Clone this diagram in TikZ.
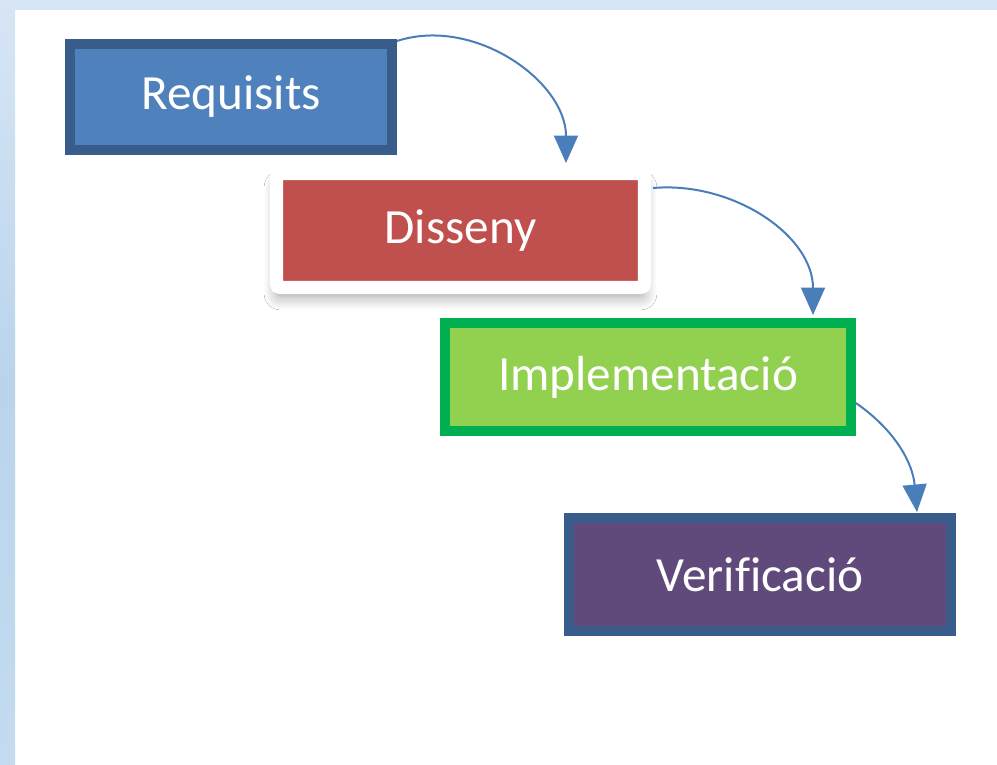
\documentclass[tikz,border=0pt]{standalone}
\usepackage{fontspec}
\setmainfont[Ligatures=NoCommon]{Carlito}
\usepackage{tikz}
\usetikzlibrary{arrows.meta}
\usetikzlibrary{calc}
\usetikzlibrary{shadows.blur}

\definecolor{reqfill}{HTML}{4F81BD}
\definecolor{reqdraw}{HTML}{385D8A}
\definecolor{disfill}{HTML}{C0504D}
\definecolor{implfill}{HTML}{92D050}
\definecolor{impldraw}{HTML}{00B050}
\definecolor{verfill}{HTML}{604A7B}
\definecolor{arrowblue}{HTML}{4A7EBB}
\definecolor{bgtop}{HTML}{D7E6F5}
\definecolor{bgmid}{HTML}{BAD4EC}
\definecolor{bgbot}{HTML}{C4DBF0}

\tikzset{
  phase/.style={rectangle, text=white, font=\fontsize{28}{34}\selectfont, line width=0.2cm},
  flow/.style={-{Triangle[width=0.48cm,length=0.55cm]}, arrowblue, line width=0.04cm}
}

\begin{document}
\begin{tikzpicture}[x=0.02cm, y=-0.02cm]
\useasboundingbox (0,0) rectangle (997,764);
\fill[white] (0,0) rectangle (997,764);
\fill[bgtop] (0,0) rectangle (997,10);
\shade[top color=bgtop, bottom color=bgbot, middle color=bgmid] (0,0) rectangle (15,764);

\node[phase, fill=reqfill, draw=reqdraw, minimum width=6.44cm, minimum height=2.12cm] (req) at (231,97) {Requisits};
\node[phase, fill=disfill, draw=white, line width=0.26cm, rounded corners=2pt, minimum width=7.36cm, minimum height=2.28cm,
  blur shadow={shadow xshift=0cm, shadow yshift=-0.2cm, shadow blur radius=0.25cm, shadow blur steps=10, shadow opacity=35}] (dis) at (460.5,230.5) {Disseny};
\node[phase, fill=implfill, draw=impldraw, minimum width=8.12cm, minimum height=2.16cm] (impl) at (648,377) {Implementació};
\node[phase, fill=verfill, draw=reqdraw, minimum width=7.64cm, minimum height=2.26cm] (ver) at (760,574.5) {Verificació};

% fletxes entre fases
\draw[flow] ($(req.north east)+(0,2)$) to[out=18, in=90] ($(dis.north)+(105.5,-4)$);
\draw[flow] ($(dis.north east)+(2,21)$) to[out=5, in=90] ($(impl.north)+(165,-3)$);
\draw[flow] ($(impl.east)+(0,26)$) to[out=-35, in=95] ($(ver.north)+(157,-1)$);

\end{tikzpicture}
\end{document}
